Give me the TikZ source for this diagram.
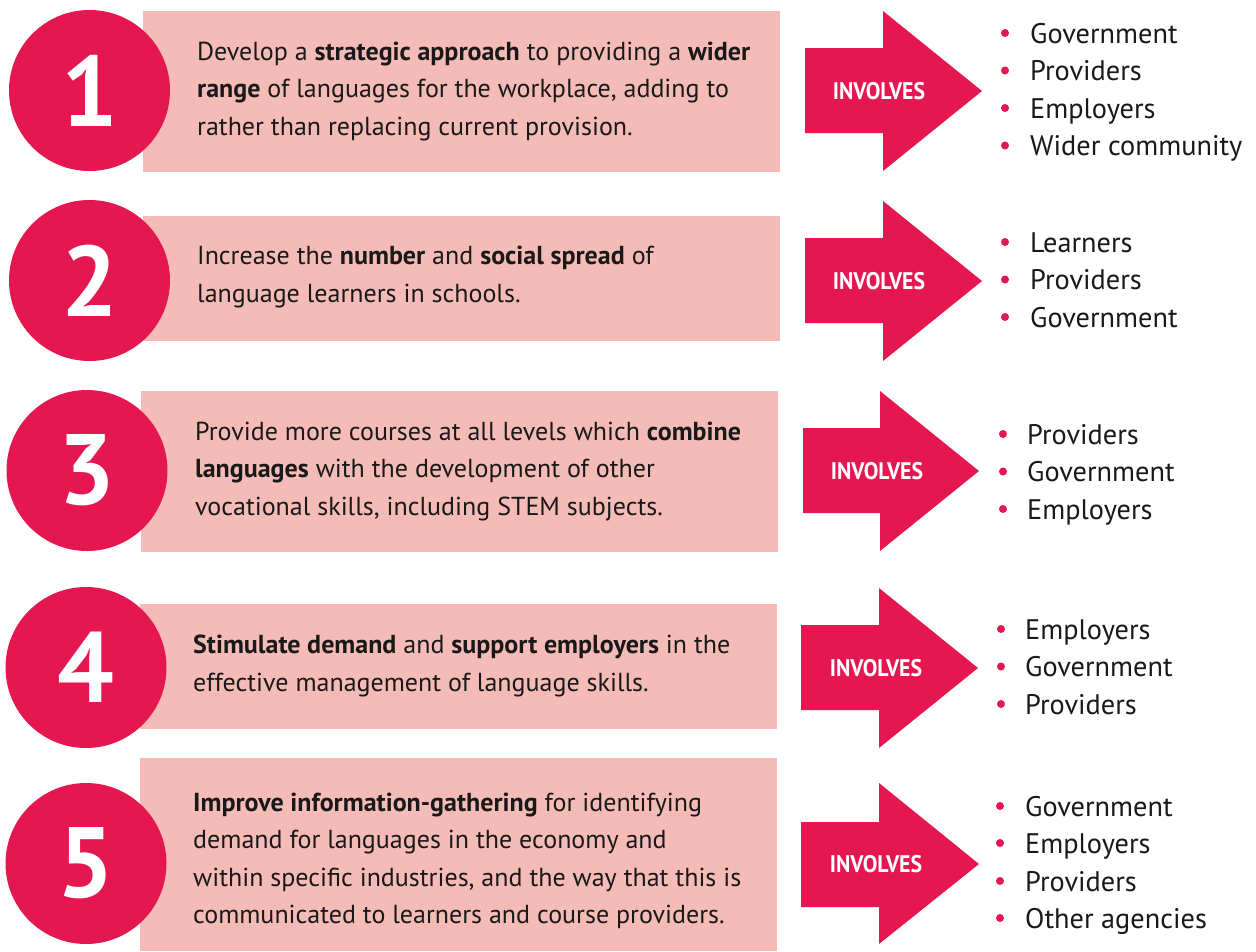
\documentclass[tikz,border=0pt]{standalone}
\usepackage{fontspec}
\setmainfont{PT Sans}
\newfontfamily\condfont{PT Sans}[FakeStretch=0.91]
\definecolor{redc}{RGB}{228,23,80}
\definecolor{pinkc}{RGB}{245,187,183}
\definecolor{inkc}{RGB}{25,25,25}
\tikzset{
  numcirc/.style={circle, fill=redc, minimum size=161pt, inner sep=0pt, text=white,
    font=\fontsize{100}{100}\selectfont\bfseries},
  txtbox/.style={fill=pinkc, anchor=north west, inner sep=0pt},
  bodytext/.style={anchor=base west, align=left, inner sep=0pt, text=inkc,
    font=\fontsize{26}{37.5}\selectfont},
  bigarrow/.style={fill=redc},
  invlabel/.style={text=white, inner sep=0pt, font=\condfont\fontsize{24}{24}\selectfont\bfseries},
  bdot/.style={circle, fill=redc, minimum size=8pt, inner sep=0pt},
  itemtext/.style={anchor=base west, inner sep=0pt, text=inkc, font=\fontsize{28.3}{28}\selectfont}
}
\begin{document}
\begin{tikzpicture}[x=1pt,y=-1pt]
\useasboundingbox (0,0) rectangle (1256,951);

% ---------- Row 1
\node[txtbox, minimum width=637pt, minimum height=161pt] (b1) at (143,11) {};
\node[numcirc] (c1) at (89.5,90.5) {1};
\node[bodytext] (t1) at (197,135) {Develop a \textbf{strategic approach} to providing a \textbf{wider}\\\textbf{range} of languages for the workplace, adding to\\rather than replacing current provision.};
\fill[bigarrow] (805,48) -- (883,48) -- (883,11) -- (982,91) -- (883,171) -- (883,133) -- (805,133) -- cycle;
\node[invlabel] (i1) at (879,91) {INVOLVES};
\foreach \y/\t [count=\k] in {43/Government, 80.5/Providers, 118/Employers, 155.5/Wider community}{
  \node[bdot] (d1\k) at (1005,\y-10) {};
  \node[itemtext] (e1\k) at (1030,\y) {\t};
}

% ---------- Row 2
\node[txtbox, minimum width=637pt, minimum height=125pt] (b2) at (143,216) {};
\node[numcirc] (c2) at (89.5,280.5) {2};
\node[bodytext] (t2) at (197,302) {Increase the \textbf{number} and \textbf{social spread} of\\language learners in schools.};
\fill[bigarrow] (805,238) -- (883,238) -- (883,201) -- (982,281) -- (883,361) -- (883,323) -- (805,323) -- cycle;
\node[invlabel] (i2) at (879,281) {INVOLVES};
\foreach \y/\t [count=\k] in {252/Learners, 289.5/Providers, 327/Government}{
  \node[bdot] (d2\k) at (1005,\y-10) {};
  \node[itemtext] (e2\k) at (1030,\y) {\t};
}

% ---------- Row 3
\node[txtbox, minimum width=637pt, minimum height=161pt] (b3) at (141,391) {};
\node[numcirc] (c3) at (87,470.5) {3};
\node[bodytext] (t3) at (195,515) {Provide more courses at all levels which \textbf{combine}\\\textbf{languages} with the development of other\\vocational skills, including STEM subjects.};
\fill[bigarrow] (803,428) -- (880,428) -- (880,391) -- (979,471) -- (880,551) -- (880,513) -- (803,513) -- cycle;
\node[invlabel] (i3) at (877,471) {INVOLVES};
\foreach \y/\t [count=\k] in {444/Providers, 481.5/Government, 519/Employers}{
  \node[bdot] (d3\k) at (1003,\y-10) {};
  \node[itemtext] (e3\k) at (1027,\y) {\t};
}

% ---------- Row 4
\node[txtbox, minimum width=637pt, minimum height=125pt] (b4) at (140,604) {};
\node[numcirc] (c4) at (86,667.5) {4};
\node[bodytext] (t4) at (193,691) {\textbf{Stimulate demand} and \textbf{support employers} in the\\effective management of language skills.};
\fill[bigarrow] (801,625) -- (879,625) -- (879,588) -- (978,668) -- (879,748) -- (879,710) -- (801,710) -- cycle;
\node[invlabel] (i4) at (876,668) {INVOLVES};
\foreach \y/\t [count=\k] in {639/Employers, 676.5/Government, 714/Providers}{
  \node[bdot] (d4\k) at (1001,\y-10) {};
  \node[itemtext] (e4\k) at (1025,\y) {\t};
}

% ---------- Row 5
\node[txtbox, minimum width=637pt, minimum height=193pt] (b5) at (140,758) {};
\node[numcirc] (c5) at (86,863.5) {5};
\node[bodytext] (t5) at (193,923.5) {\textbf{Improve information-gathering} for identifying\\demand for languages in the economy and\\within specific industries, and the way that this is\\communicated to learners and course providers.};
\fill[bigarrow] (801,822) -- (879,822) -- (879,783) -- (979,864) -- (879,944) -- (879,907) -- (801,907) -- cycle;
\node[invlabel] (i5) at (876,864) {INVOLVES};
\foreach \y/\t [count=\k] in {816/Government, 853/Employers, 891/Providers, 928/Other agencies}{
  \node[bdot] (d5\k) at (1000,\y-10) {};
  \node[itemtext] (e5\k) at (1025,\y) {\t};
}
\end{tikzpicture}
\end{document}
